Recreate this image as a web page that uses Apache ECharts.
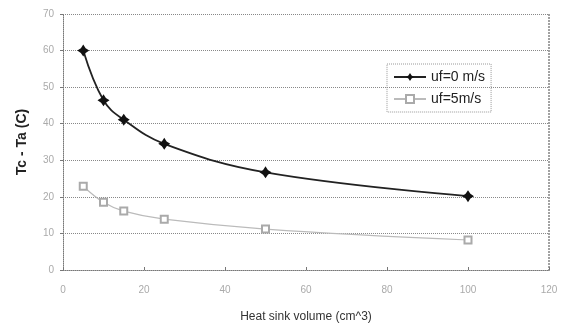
<!DOCTYPE html>
<html><head><meta charset="utf-8">
<script src="https://cdn.jsdelivr.net/npm/echarts@6/dist/echarts.min.js"></script>
<style>html,body{margin:0;padding:0;background:#fff}#c{width:563px;height:328px}</style>
</head><body><div id="c"></div>
<script>
const volumes = [5, 10, 15, 25, 50, 100];
const uf0 = [60, 46.4, 41.1, 34.5, 26.7, 20.2];
const uf5 = [22.9, 18.5, 16.1, 13.9, 11.2, 8.2];
const seriesNames = ['uf=0 m/s', 'uf=5m/s'];
const xTitle = 'Heat sink volume (cm^3)';
const yTitle = 'Tc - Ta (C)';

const chart = echarts.init(document.getElementById('c'));
chart.setOption({
  animation: false,
  backgroundColor: '#fff',
  grid: { left: 63, right: 14, top: 14, bottom: 57 },
  legend: {
    orient: 'vertical', left: 387, top: 64, itemGap: 8, itemWidth: 32, itemHeight: 10,
    borderColor: '#999', borderWidth: 1, borderType: 'dotted', padding: [6, 6, 6, 6],
    textStyle: { fontFamily: 'Liberation Sans', fontSize: 14, color: '#222' },
    data: seriesNames
  },
  xAxis: {
    type: 'value', min: 0, max: 120, interval: 20,
    name: xTitle, nameLocation: 'middle', nameGap: 41,
    nameTextStyle: { fontFamily: 'Liberation Sans', fontSize: 12, color: '#333' },
    axisLine: { lineStyle: { color: '#777', type: 'dotted' } },
    axisTick: { show: true, inside: true, length: 3, lineStyle: { color: '#777' } },
    axisLabel: { fontFamily: 'Liberation Sans', fontSize: 10, color: '#aaa', margin: 15 },
    splitLine: { show: false }
  },
  yAxis: {
    type: 'value', min: 0, max: 70, interval: 10,
    name: yTitle, nameLocation: 'middle', nameGap: 34, nameRotate: 90,
    nameTextStyle: { fontFamily: 'Liberation Sans', fontSize: 14, fontWeight: 'bold', color: '#222' },
    axisLine: { show: true, lineStyle: { color: '#777', type: 'dotted' } },
    axisTick: { show: true, length: 3, lineStyle: { color: '#777' } },
    axisLabel: { fontFamily: 'Liberation Sans', fontSize: 10, color: '#aaa', margin: 9 },
    splitLine: { show: true, lineStyle: { color: '#888', type: 'dotted', width: 1 } }
  },
  series: [
    {
      name: seriesNames[0], type: 'line', smooth: 0.4,
      data: volumes.map((v, i) => [v, uf0[i]]),
      symbol: 'path://M0,-10 L4,-4 L10,0 L4,4 L0,10 L-4,4 L-10,0 L-4,-4 Z', symbolSize: 12,
      itemStyle: { color: '#111' },
      lineStyle: { color: '#222', width: 1.8 }
    },
    {
      name: seriesNames[1], type: 'line', smooth: 0.4,
      data: volumes.map((v, i) => [v, uf5[i]]),
      symbol: 'emptyRect', symbolSize: 7,
      itemStyle: { color: '#aaa', borderColor: '#aaa', borderWidth: 1 },
      lineStyle: { color: '#bbb', width: 1.2 }
    }
  ],
  graphic: [{
    type: 'line', shape: { x1: 549, y1: 14, x2: 549, y2: 271 },
    style: { stroke: '#444', lineWidth: 1, lineDash: [2, 1] }
  }]
});
</script></body></html>
